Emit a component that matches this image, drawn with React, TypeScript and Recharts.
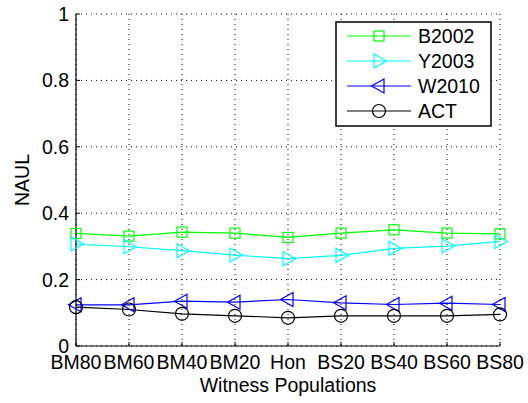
import React from 'react';
import { LineChart, Line, XAxis, YAxis, CartesianGrid, Label } from 'recharts';

// witness populations along the x axis
const populations = ['BM80', 'BM60', 'BM40', 'BM20', 'Hon', 'BS20', 'BS40', 'BS60', 'BS80'];

// NAUL per method
const b2002 = [0.339, 0.331, 0.343, 0.340, 0.327, 0.340, 0.350, 0.340, 0.338];
const y2003 = [0.307, 0.299, 0.287, 0.274, 0.263, 0.273, 0.294, 0.301, 0.315];
const w2010 = [0.124, 0.124, 0.135, 0.132, 0.140, 0.130, 0.125, 0.129, 0.125];
const act = [0.117, 0.110, 0.097, 0.091, 0.085, 0.091, 0.091, 0.091, 0.095];

const yTicks = [0, 0.2, 0.4, 0.6, 0.8, 1];

const data = populations.map((p, i) => ({
  name: p,
  B2002: b2002[i],
  Y2003: y2003[i],
  W2010: w2010[i],
  ACT: act[i],
}));

const FONT = '"Liberation Sans", Arial, Helvetica, sans-serif';
const FS = 19.5;
const X_MARGIN = 9;
const Y_MARGIN = 7;

const series = [
  { key: 'B2002', color: '#00ff00', marker: 'square' },
  { key: 'Y2003', color: '#00ffff', marker: 'triRight' },
  { key: 'W2010', color: '#0000ff', marker: 'triLeft' },
  { key: 'ACT', color: '#000000', marker: 'circle' },
];

const drawMarker = (shape: string, cx: number, cy: number, color: string, key?: any) => {
  const common = { fill: 'none', stroke: color, strokeWidth: 1.2 };
  if (shape === 'square') {
    return <rect key={key} x={cx - 5} y={cy - 5} width={10} height={10} {...common} />;
  }
  if (shape === 'triRight') {
    return <polygon key={key} points={`${cx - 5},${cy - 7} ${cx + 7.5},${cy} ${cx - 5},${cy + 7}`} {...common} />;
  }
  if (shape === 'triLeft') {
    return <polygon key={key} points={`${cx + 5},${cy - 7} ${cx - 7.5},${cy} ${cx + 5},${cy + 7}`} {...common} />;
  }
  return <circle key={key} cx={cx} cy={cy} r={6.5} {...common} />;
};

const makeDot = (shape: string, color: string) => (props: any) => {
  const { cx, cy, index } = props;
  if (cx == null || cy == null) return <g key={`e-${index}`} />;
  return drawMarker(shape, cx, cy, color, `${shape}-${index}`);
};

// matlab style ticks pointing into the axes
const XTick = (props: any) => {
  const { x, y, payload } = props;
  return (
    <g>
      <line x1={x} x2={x} y1={y - X_MARGIN} y2={y - X_MARGIN - 4} stroke="#000" strokeWidth={1} />
      <text x={x} y={y} dy="0.71em" textAnchor="middle" fontSize={FS} fontFamily={FONT} fill="#000">
        {payload.value}
      </text>
    </g>
  );
};

const YTick = (props: any) => {
  const { x, y, payload } = props;
  return (
    <g>
      <line x1={x + Y_MARGIN} x2={x + Y_MARGIN + 4} y1={y} y2={y} stroke="#000" strokeWidth={1} />
      <text x={x} y={y} dy="0.355em" textAnchor="end" fontSize={FS} fontFamily={FONT} fill="#000">
        {payload.value}
      </text>
    </g>
  );
};

// legend drawn as an overlay box, like the matlab one
const LegendBox = () => (
  <svg width={157} height={106} style={{ position: 'absolute', left: 335, top: 21, display: 'block' }}>
    <rect x={1} y={1} width={155} height={104} fill="#fff" stroke="#000" strokeWidth={1.5} />
    {series.map((s, i) => {
      const y = 15 + i * 25;
      return (
        <g key={s.key}>
          <line x1={12} x2={76} y1={y} y2={y} stroke={s.color} strokeWidth={1.2} />
          {drawMarker(s.marker, 44, y, s.color)}
          <text x={83} y={y + 7} fontSize={FS} fontFamily={FONT} fill="#000">
            {s.key}
          </text>
        </g>
      );
    })}
  </svg>
);

const App = () => {
  return (
    <div style={{ position: 'absolute', left: 0, top: 0, width: 528, height: 403, background: '#fff' }}>
      <LineChart
        width={528}
        height={403}
        data={data}
        margin={{ top: 14, right: 28, left: 0, bottom: 0 }}
        style={{ fontFamily: FONT }}
      >
        <CartesianGrid stroke="#000" strokeDasharray="1 4" strokeWidth={1} />
        <XAxis
          dataKey="name"
          height={57}
          tickSize={0}
          tickMargin={X_MARGIN}
          axisLine={{ stroke: '#000', strokeWidth: 1.2 }}
          tick={<XTick />}
          interval={0}
        >
          <Label
            content={() => (
              <text x={288} y={392} textAnchor="middle" fontSize={FS} fontFamily={FONT} fill="#000">
                Witness Populations
              </text>
            )}
          />
        </XAxis>
        <YAxis
          width={76}
          domain={[0, 1]}
          ticks={yTicks}
          tickSize={0}
          tickMargin={Y_MARGIN}
          axisLine={{ stroke: '#000', strokeWidth: 1.2 }}
          tick={<YTick />}
        >
          <Label
            content={() => (
              <text
                x={22}
                y={180}
                transform="rotate(-90 22 180)"
                textAnchor="middle"
                dominantBaseline="central"
                fontSize={FS}
                fontFamily={FONT}
                fill="#000"
              >
                NAUL
              </text>
            )}
          />
        </YAxis>
        {series.map((s) => (
          <Line
            key={s.key}
            dataKey={s.key}
            stroke={s.color}
            strokeWidth={1.2}
            dot={makeDot(s.marker, s.color)}
            activeDot={false}
            isAnimationActive={false}
          />
        ))}
      </LineChart>
      <LegendBox />
    </div>
  );
};

export default App;
